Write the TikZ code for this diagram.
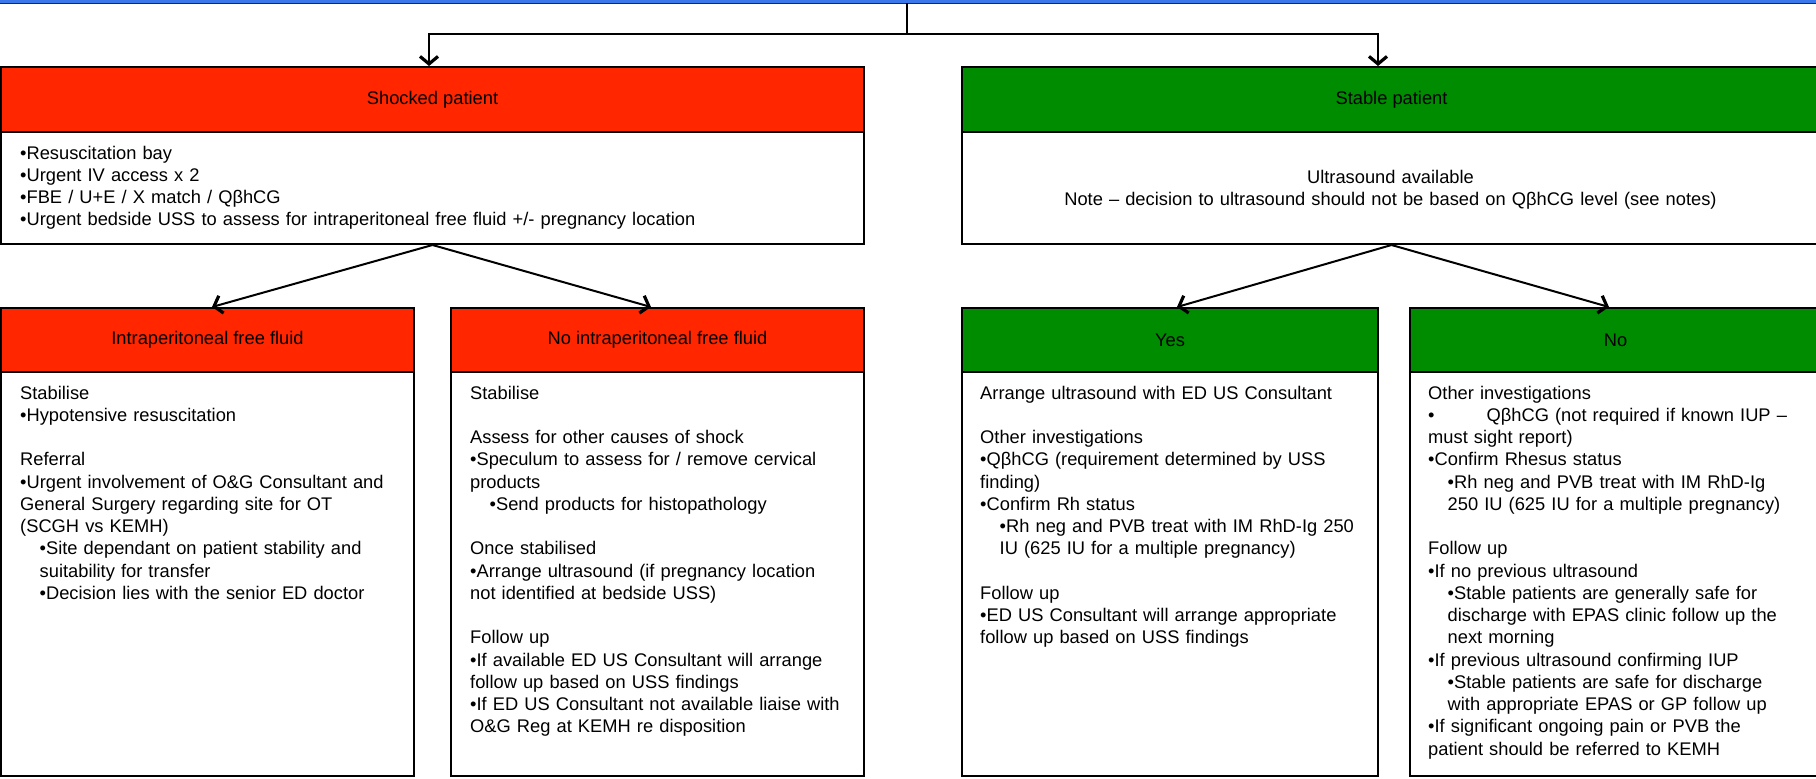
\documentclass[tikz,border=0pt]{standalone}
\usepackage{fontspec}
\setmainfont{Liberation Sans}
\usetikzlibrary{arrows.meta,calc}
\definecolor{shockred}{RGB}{255,38,0}
\definecolor{stablegreen}{RGB}{0,140,0}
\definecolor{topblue}{RGB}{60,120,235}
\definecolor{topnavy}{RGB}{20,40,110}
\newcommand\dgfont{\fontsize{18.3pt}{22.25pt}\selectfont}
\newcommand\ind{\hspace*{19.5pt}}
\newcommand\fs{\rule{0pt}{15pt}}
\tikzset{
  hdr/.style={draw=black, line width=2pt, anchor=north west, inner sep=0pt, font=\dgfont, align=center},
  bodybox/.style={draw=black, line width=2pt, fill=white, anchor=north west, inner sep=0pt},
  txt/.style={anchor=north west, inner sep=0pt, font=\dgfont, align=left, text width=#1},
  arr/.style={line width=2pt, -{Straight Barb[length=7.5pt,width=18pt,line width=3.2pt]}},
  plain/.style={line width=2pt}
}
\begin{document}
\begin{tikzpicture}[x=1pt,y=-1pt]
\useasboundingbox (0,0) rectangle (1816,779);
% top band
\fill[topblue] (0,-3) rectangle (1816,3);
\draw[topnavy, line width=1.2pt] (0,3.4) -- (1816,3.4);

% top level boxes
\node[hdr, fill=shockred, minimum width=863pt, minimum height=65pt] (shockH) at (0,66) {Shocked patient};
\node[bodybox, minimum width=863pt, minimum height=112pt] (shockB) at (0,131) {};
\node[txt=840pt] (shockT) at (20,144) {\fs•Resuscitation bay\\
•Urgent IV access x 2\\
•FBE / U+E / X match / QβhCG\\
•Urgent bedside USS to assess for intraperitoneal free fluid +/- pregnancy location};

\node[hdr, fill=stablegreen, minimum width=859pt, minimum height=65pt] (stableH) at (961,66) {Stable patient};
\node[bodybox, minimum width=859pt, minimum height=112pt] (stableB) at (961,131) {};
\node[anchor=north, inner sep=0pt, font=\dgfont, align=center, text width=840pt] (stableT) at (1390.5,168) {\fs Ultrasound available\\
Note – decision to ultrasound should not be based on QβhCG level (see notes)};

% lower boxes
\node[hdr, fill=shockred, minimum width=413pt, minimum height=64pt] (b1H) at (0,307) {Intraperitoneal free fluid};
\node[bodybox, minimum width=413pt, minimum height=404pt] (b1B) at (0,371) {};
\node[txt=440pt] (b1T) at (20,384) {\fs Stabilise\\
•Hypotensive resuscitation\\[22.25pt]
Referral\\
•Urgent involvement of O\&G Consultant and\\
General Surgery regarding site for OT\\
(SCGH vs KEMH)\\
\ind•Site dependant on patient stability and\\
\ind suitability for transfer\\
\ind•Decision lies with the senior ED doctor};

\node[hdr, fill=shockred, minimum width=413pt, minimum height=64pt] (b2H) at (450,307) {No intraperitoneal free fluid};
\node[bodybox, minimum width=413pt, minimum height=404pt] (b2B) at (450,371) {};
\node[txt=440pt] (b2T) at (470,384) {\fs Stabilise\\[22.25pt]
Assess for other causes of shock\\
•Speculum to assess for / remove cervical\\
products\\
\ind•Send products for histopathology\\[22.25pt]
Once stabilised\\
•Arrange ultrasound (if pregnancy location\\
not identified at bedside USS)\\[22.25pt]
Follow up\\
•If available ED US Consultant will arrange\\
follow up based on USS findings\\
•If ED US Consultant not available liaise with\\
O\&G Reg at KEMH re disposition};

\node[hdr, fill=stablegreen, minimum width=416pt, minimum height=64pt] (b3H) at (961,307) {Yes};
\node[bodybox, minimum width=416pt, minimum height=404pt] (b3B) at (961,371) {};
\node[txt=440pt] (b3T) at (980,384) {\fs Arrange ultrasound with ED US Consultant\\[22.25pt]
Other investigations\\
•QβhCG (requirement determined by USS\\
finding)\\
•Confirm Rh status\\
\ind•Rh neg and PVB treat with IM RhD-Ig 250\\
\ind IU (625 IU for a multiple pregnancy)\\[22.25pt]
Follow up\\
•ED US Consultant will arrange appropriate\\
follow up based on USS findings};

\node[hdr, fill=stablegreen, minimum width=411pt, minimum height=64pt] (b4H) at (1409,307) {No};
\node[bodybox, minimum width=411pt, minimum height=404pt] (b4B) at (1409,371) {};
\node[txt=440pt] (b4T) at (1428,384) {\fs Other investigations\\
•\hspace{52pt}QβhCG (not required if known IUP –\\
must sight report)\\
•Confirm Rhesus status\\
\ind•Rh neg and PVB treat with IM RhD-Ig\\
\ind 250 IU (625 IU for a multiple pregnancy)\\[22.25pt]
Follow up\\
•If no previous ultrasound\\
\ind•Stable patients are generally safe for\\
\ind discharge with EPAS clinic follow up the\\
\ind next morning\\
•If previous ultrasound confirming IUP\\
\ind•Stable patients are safe for discharge\\
\ind with appropriate EPAS or GP follow up\\
•If significant ongoing pain or PVB the\\
patient should be referred to KEMH};

% connectors
\coordinate (top) at (907,3);
\coordinate (split) at (907,33.5);
\draw[plain] (top) -- (split);
\draw[arr] (split) -| ([xshift=-3.5pt]shockH.north);
\draw[arr] (split) -| ([xshift=-13.5pt]stableH.north);
\draw[arr] (shockB.south) -- ([xshift=4.5pt]b1H.north);
\draw[arr] (shockB.south) -- ([xshift=-6.5pt]b2H.north);
\draw[arr] (stableB.south) -- ([xshift=7pt]b3H.north);
\draw[arr] (stableB.south) -- ([xshift=-6.5pt]b4H.north);
\end{tikzpicture}
\end{document}
